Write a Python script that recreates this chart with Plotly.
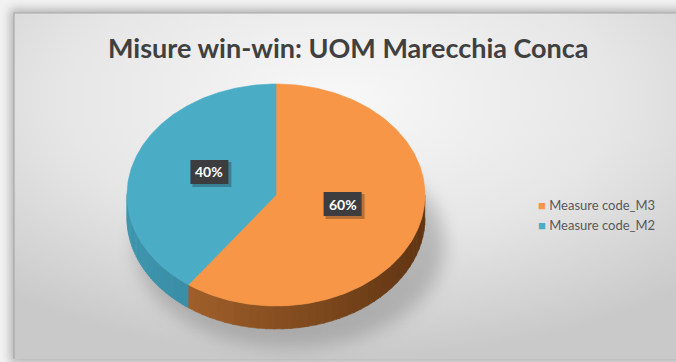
import base64
import numpy as np
import plotly.graph_objects as go

# ---- data -------------------------------------------------------------
labels = ["Measure code_M3", "Measure code_M2"]
values = [60, 40]
title_text = "Misure win-win: UOM Marecchia Conca"

# ---- styling ----------------------------------------------------------
top_colors = ["#F79646", "#4BACC6"]
wall_light = [(176, 106, 48), (62, 150, 174)]
wall_dark = [(96, 53, 18), (40, 110, 130)]
FONT = "Lato"

W, H = 676, 362
CX, CY = 276, 195          # centre of the pie's top face (px)
RX, RY = 149, 111          # half-axes of the tilted disc
DEPTH = 23                 # thickness of the 3D wall
LEG_X, LEG_Y, LEG_STEP = 536, 205, 20


def rim(theta_deg, dy=0.0):
    """Point on the rim; angle measured clockwise from 12 o'clock."""
    t = np.radians(theta_deg)
    return CX + RX * np.sin(t), CY - RY * np.cos(t) + dy


def mix(c1, c2, t):
    r, g, b = (int(round(a + (b_ - a) * t)) for a, b_ in zip(c1, c2))
    return f"rgb({r},{g},{b})"


# background: soft panel with radial gradient and drop shadows
bg_svg = f"""<svg xmlns='http://www.w3.org/2000/svg' width='{W}' height='{H}' viewBox='0 0 {W} {H}'>
<defs>
 <radialGradient id='g' cx='0.48' cy='0.25' r='0.75'>
  <stop offset='0' stop-color='#f8f8f8'/>
  <stop offset='0.55' stop-color='#e6e6e6'/>
  <stop offset='1' stop-color='#c9c9c9'/>
 </radialGradient>
 <filter id='b1' x='-20%' y='-20%' width='140%' height='140%'><feGaussianBlur stdDeviation='5'/></filter>
 <filter id='b2' x='-30%' y='-30%' width='160%' height='160%'><feGaussianBlur stdDeviation='9'/></filter>
</defs>
<rect width='{W}' height='{H}' fill='#f2f2f2'/>
<rect x='10' y='9' width='{W}' height='{H - 8}' fill='#9a9a9a' opacity='0.7' filter='url(#b1)'/>
<rect x='14' y='13' width='{W}' height='{H - 16}' fill='url(#g)'/>
<path d='M14 {H - 3} L14 13 L{W} 13' fill='none' stroke='#a8a8a8' stroke-width='1.2'/>
<ellipse cx='{CX + 14}' cy='{CY + 50}' rx='{RX + 6}' ry='{RY - 8}' fill='#6e6e6e' opacity='0.38' filter='url(#b2)'/>
</svg>"""
bg_uri = "data:image/svg+xml;base64," + base64.b64encode(bg_svg.encode()).decode()

fig = go.Figure()

total = float(sum(values))
fractions = [v / total for v in values]
starts = np.concatenate([[0.0], np.cumsum(fractions)[:-1]]) * 360
ends = np.cumsum(fractions) * 360

# side walls (only the front half of the disc is visible)
for i, (a0, a1) in enumerate(zip(starts, ends)):
    lo, hi = max(a0, 90.0), min(a1, 270.0)
    if hi <= lo:
        continue
    steps = np.linspace(lo, hi, 40)
    for s0, s1 in zip(steps[:-1], steps[1:]):
        ang = np.linspace(s0, s1 + 0.4, 4)
        tx, ty = rim(ang)
        bx, by = rim(ang[::-1], DEPTH)
        xm = rim((s0 + s1) / 2)[0]
        t = (xm - (CX - RX)) / (2 * RX)
        col = mix(wall_light[i], wall_dark[i], min(max(t, 0), 1))
        fig.add_trace(go.Scatter(
            x=np.concatenate([tx, bx]), y=np.concatenate([ty, by]),
            fill="toself", fillcolor=col, mode="lines",
            line=dict(width=0.6, color=col), hoverinfo="skip", showlegend=False))

# top faces of the slices
for i, (a0, a1) in enumerate(zip(starts, ends)):
    ang = np.linspace(a0, a1, 200)
    ax, ay = rim(ang)
    fig.add_trace(go.Scatter(
        x=np.concatenate([[CX], ax, [CX]]), y=np.concatenate([[CY], ay, [CY]]),
        fill="toself", fillcolor=top_colors[i], mode="lines",
        line=dict(width=0.6, color=top_colors[i]),
        name=labels[i], hoverinfo="name", showlegend=False))

annotations = []
shapes = []

# percentage labels in dark boxes with a soft drop shadow
BOX_W, BOX_H = 38, 24
for i, (a0, a1) in enumerate(zip(starts, ends)):
    mid = (a0 + a1) / 2
    t = np.radians(mid)
    lx = CX + 0.47 * RX * np.sin(t)
    ly = CY - 0.47 * RY * np.cos(t) - 7
    txt = f"{fractions[i]:.0%}"
    shapes.append(dict(
        type="rect", xref="x", yref="y", layer="above",
        x0=lx - BOX_W / 2 + 2, x1=lx + BOX_W / 2 + 3,
        y0=ly - BOX_H / 2 + 2, y1=ly + BOX_H / 2 + 3,
        fillcolor="rgba(0,0,0,0.25)", line=dict(width=0)))
    shapes.append(dict(
        type="rect", xref="x", yref="y", layer="above",
        x0=lx - BOX_W / 2, x1=lx + BOX_W / 2,
        y0=ly - BOX_H / 2, y1=ly + BOX_H / 2,
        fillcolor="#3d3d3f", line=dict(width=0)))
    annotations.append(dict(
        x=lx, y=ly, xref="x", yref="y", text=f"<b>{txt}</b>",
        showarrow=False, font=dict(family=FONT, size=14, color="white")))

# legend: coloured square followed by the category name
for i, lab in enumerate(labels):
    annotations.append(dict(
        x=LEG_X, y=LEG_Y + i * LEG_STEP, xref="x", yref="y",
        xanchor="left", yanchor="middle", showarrow=False,
        text=f"<span style='color:{top_colors[i]}'>■</span> {lab}",
        font=dict(family=FONT, size=13, color="#595959")))

annotations.append(dict(
    x=348, y=47, xref="x", yref="y", text=f"<b>{title_text}</b>",
    showarrow=False, font=dict(family=FONT, size=27, color="#404040")))

fig.update_layout(
    width=W, height=H,
    margin=dict(l=0, r=0, t=0, b=0),
    paper_bgcolor="#f2f2f2", plot_bgcolor="rgba(0,0,0,0)",
    xaxis=dict(range=[0, W], visible=False, fixedrange=True),
    yaxis=dict(range=[H, 0], visible=False, fixedrange=True),
    images=[dict(source=bg_uri, xref="paper", yref="paper", x=0, y=1,
                 sizex=1, sizey=1, sizing="stretch", layer="below",
                 xanchor="left", yanchor="top")],
    annotations=annotations,
    shapes=shapes,
    showlegend=False,
)

fig.write_html("out.html")
